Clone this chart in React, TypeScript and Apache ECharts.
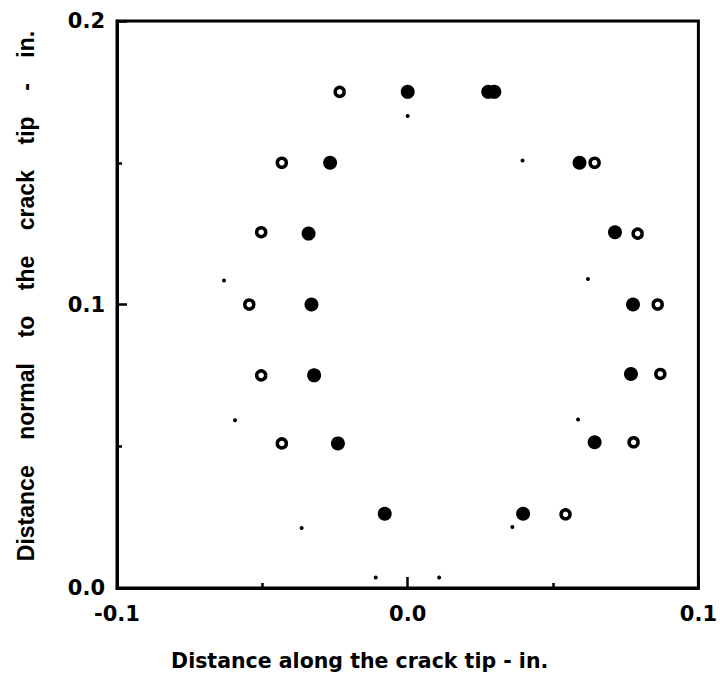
import React, { useEffect, useRef } from "react";
import * as echarts from "echarts";

// Filled circles: [distance along crack tip, distance normal to crack tip] (in.)
const filledPoints: [number, number][] = [
  [0.0, 0.175],
  [0.0277, 0.175],
  [0.0298, 0.175],
  [-0.0267, 0.15],
  [0.0591, 0.15],
  [-0.0341, 0.125],
  [0.0713, 0.1255],
  [-0.0331, 0.1],
  [0.0775, 0.1],
  [-0.0322, 0.075],
  [0.0768, 0.0755],
  [-0.024, 0.051],
  [0.0643, 0.0514],
  [-0.0079, 0.0262],
  [0.0397, 0.0262],
];

// Open circles
const openPoints: [number, number][] = [
  [-0.0234, 0.175],
  [-0.0433, 0.15],
  [0.0643, 0.15],
  [-0.0504, 0.1255],
  [0.0791, 0.125],
  [-0.0545, 0.1],
  [0.086, 0.1],
  [-0.0504, 0.075],
  [0.0869, 0.0755],
  [-0.0433, 0.051],
  [0.0777, 0.0514],
  [0.0543, 0.026],
];

// Small dots
const dotPoints: [number, number][] = [
  [0.0, 0.1665],
  [0.0395, 0.1508],
  [-0.0632, 0.1085],
  [0.062, 0.109],
  [-0.0594, 0.0592],
  [0.0586, 0.0594],
  [-0.0365, 0.0212],
  [0.036, 0.0215],
  [-0.011, 0.0037],
  [0.0108, 0.0037],
];

const xTitle = "Distance along the crack tip - in.";
const yTitleWords = ["Distance", "normal", "to", "the", "crack", "tip", "-", "in."];

export default function App() {
  const ref = useRef<HTMLDivElement>(null);

  useEffect(() => {
    document.body.style.margin = "0";
    if (!ref.current) return;
    const chart = echarts.init(ref.current, undefined, { renderer: "svg" });
    const gap = "\u00A0\u00A0\u00A0\u00A0";
    const yTitle = yTitleWords.join(gap);
    const labelStyle = {
      color: "#000",
      fontFamily: "DejaVu Sans",
      fontWeight: "bold" as const,
      fontSize: 21,
    };
    chart.setOption({
      animation: false,
      backgroundColor: "#fff",
      grid: {
        left: 117,
        right: 20,
        top: 21,
        bottom: 96,
        show: true,
        borderColor: "#000",
        borderWidth: 3,
        backgroundColor: "transparent",
      },
      xAxis: {
        type: "value",
        min: -0.1,
        max: 0.1,
        interval: 0.1,
        name: xTitle,
        nameLocation: "middle",
        nameGap: 62,
        nameTextStyle: {
          color: "#000",
          fontFamily: "DejaVu Sans",
          fontWeight: "bold",
          fontSize: 20.5,
          padding: [0, 96, 0, 0],
        },
        axisLine: { show: true, onZero: false, lineStyle: { color: "#000", width: 3 } },
        axisTick: { show: true, inside: true, length: 11, lineStyle: { color: "#000", width: 2.5 } },
        minorTick: { show: true, splitNumber: 2, length: 5, lineStyle: { color: "#000", width: 2.5 } },
        splitLine: { show: false },
        axisLabel: {
          ...labelStyle,
          margin: 15,
          formatter: (v: number) => v.toFixed(1),
        },
      },
      yAxis: {
        type: "value",
        min: 0,
        max: 0.2,
        interval: 0.1,
        name: yTitle,
        nameLocation: "middle",
        nameRotate: 90,
        nameGap: 80,
        nameTextStyle: {
          color: "#000",
          fontFamily: "Liberation Sans",
          fontWeight: "bold",
          fontSize: 23,
          padding: [0, 0, 0, 17],
        },
        axisLine: { show: true, onZero: false, lineStyle: { color: "#000", width: 3 } },
        axisTick: { show: true, inside: true, length: 10, lineStyle: { color: "#000", width: 2.5 } },
        minorTick: { show: true, splitNumber: 2, length: 5, lineStyle: { color: "#000", width: 2.5 } },
        splitLine: { show: false },
        axisLabel: {
          ...labelStyle,
          margin: 12,
          formatter: (v: number) => v.toFixed(1),
        },
      },
      series: [
        {
          type: "scatter",
          name: "filled",
          data: filledPoints,
          symbol: "circle",
          symbolSize: 14,
          itemStyle: { color: "#000", opacity: 1 },
          silent: true,
        },
        {
          type: "scatter",
          name: "open",
          data: openPoints,
          symbol: "circle",
          symbolSize: 9,
          itemStyle: { color: "#fff", borderColor: "#000", borderWidth: 3.5, opacity: 1 },
          silent: true,
        },
        {
          type: "scatter",
          name: "dots",
          data: dotPoints,
          symbol: "circle",
          symbolSize: 4,
          itemStyle: { color: "#000", opacity: 1 },
          silent: true,
        },
      ],
    });
    return () => chart.dispose();
  }, []);

  return <div ref={ref} style={{ width: 720, height: 684 }} />;
}
